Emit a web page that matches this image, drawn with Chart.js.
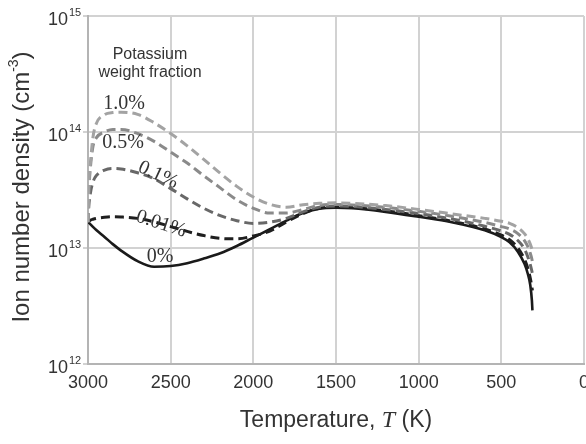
<!DOCTYPE html>
<html>
<head>
<meta charset="utf-8">
<script src="https://cdn.jsdelivr.net/npm/chart.js@4/dist/chart.umd.min.js"></script>
<style>
  html, body { margin: 0; padding: 0; background: #fff; }
  #wrap { width: 586px; height: 444px; position: relative; }
</style>
</head>
<body>
<div id="wrap"><canvas id="chart"></canvas></div>
<script>
// Temperature grid (K)
const temps = [3000, 2995, 2985, 2970, 2950, 2900, 2850, 2800, 2700, 2600, 2500, 2400, 2300, 2200, 2100,
               2000, 1900, 1800, 1700, 1600, 1500, 1400, 1200, 1000, 800, 600, 500, 450, 400, 360, 340, 325, 315, 312];

// Ion number density (cm^-3) per potassium weight fraction
const k0 = [1.67e13, 1.65e13, 1.60e13, 1.52e13, 1.43e13, 1.245e13, 1.08e13, 9.5e12, 7.7e12, 6.9e12, 7.0e12, 7.4e12, 8.1e12, 9.0e12, 1.04e13,
            1.23e13, 1.45e13, 1.72e13, 2.0e13, 2.18e13, 2.22e13, 2.2e13, 2.05e13, 1.86e13, 1.67e13, 1.42e13, 1.24e13, 1.12e13, 9.3e12, 7.3e12, 6.0e12, 4.8e12, 3.5e12, 2.9e12];
const k001 = [1.67e13, 1.70e13, 1.74e13, 1.77e13, 1.80e13, 1.84e13, 1.86e13, 1.85e13, 1.80e13, 1.68e13, 1.53e13, 1.39e13, 1.28e13, 1.21e13, 1.20e13,
              1.27e13, 1.40e13, 1.68e13, 1.98e13, 2.20e13, 2.25e13, 2.23e13, 2.09e13, 1.90e13, 1.70e13, 1.46e13, 1.29e13, 1.18e13, 1.0e13, 8.0e12, 6.7e12, 5.5e12, 4.6e12, 4.3e12];
const k01 = [1.67e13, 2.3e13, 3.0e13, 3.7e13, 4.2e13, 4.7e13, 4.85e13, 4.8e13, 4.45e13, 3.95e13, 3.25e13, 2.65e13, 2.2e13, 1.9e13, 1.72e13,
             1.63e13, 1.67e13, 1.80e13, 2.05e13, 2.25e13, 2.30e13, 2.28e13, 2.15e13, 1.98e13, 1.78e13, 1.54e13, 1.40e13, 1.31e13, 1.16e13, 9.8e12, 8.4e12, 7.2e12, 6.3e12, 6.0e12];
const k05 = [1.67e13, 3.0e13, 5.0e13, 7.5e13, 8.9e13, 1.0e14, 1.05e14, 1.05e14, 9.7e13, 8.3e13, 6.7e13, 5.4e13, 4.2e13, 3.3e13, 2.6e13,
             2.2e13, 2.0e13, 2.0e13, 2.15e13, 2.33e13, 2.37e13, 2.35e13, 2.24e13, 2.07e13, 1.88e13, 1.66e13, 1.53e13, 1.46e13, 1.33e13, 1.16e13, 1.03e13, 9.0e12, 8.0e12, 7.6e12];
const k10 = [1.67e13, 3.5e13, 5.5e13, 9.0e13, 1.18e14, 1.41e14, 1.47e14, 1.48e14, 1.42e14, 1.2e14, 9.7e13, 7.6e13, 5.8e13, 4.4e13, 3.4e13,
             2.75e13, 2.38e13, 2.25e13, 2.36e13, 2.43e13, 2.45e13, 2.43e13, 2.32e13, 2.15e13, 1.97e13, 1.80e13, 1.70e13, 1.63e13, 1.50e13, 1.33e13, 1.20e13, 1.08e13, 9.8e12, 9.4e12];

const xTicks = [3000, 2500, 2000, 1500, 1000, 500, 0];
const yTicks = [1e12, 1e13, 1e14, 1e15];

// curve labels, anchored at [T, n]
const curveLabels = [
  { text: '1.0%', at: [2782, 1.74e14], rot: 0 },
  { text: '0.5%', at: [2788, 8.0e13], rot: 0 },
  { text: '0.1%', at: [2576, 4.26e13], rot: 25 },
  { text: '0.01%', at: [2558, 1.61e13], rot: 18 },
  { text: '0%', at: [2564, 8.4e12], rot: 0 }
];

const pts = arr => temps.map((t, i) => ({ x: t, y: arr[i] }));
const sans = '"Liberation Sans", Arial, Helvetica, sans-serif';
const serif = '"Liberation Serif", "Times New Roman", serif';
const textColor = '#333';

const labelsPlugin = {
  id: 'labels',
  afterDraw(chart) {
    const { ctx, scales: { x, y } } = chart;
    ctx.save();
    ctx.fillStyle = textColor;

    // y tick labels with superscript exponents
    y.ticks.forEach(t => {
      const py = y.getPixelForValue(t.value);
      const e = Math.round(Math.log10(t.value));
      ctx.font = '18px ' + sans;
      ctx.textAlign = 'right';
      ctx.textBaseline = 'middle';
      ctx.fillText('10', 68, py + 4);
      ctx.font = '11px ' + sans;
      ctx.textAlign = 'left';
      ctx.fillText(String(e), 69, py - 3);
    });

    // y title
    ctx.save();
    ctx.translate(22, 187);
    ctx.rotate(-Math.PI / 2);
    ctx.textBaseline = 'middle';
    ctx.textAlign = 'left';
    const main = 'Ion number density (cm';
    ctx.font = '24px ' + sans;
    const w1 = ctx.measureText(main).width;
    ctx.font = '14px ' + sans;
    const w2 = ctx.measureText('-3').width;
    ctx.font = '24px ' + sans;
    const w3 = ctx.measureText(')').width;
    let sx = -(w1 + w2 + w3) / 2;
    ctx.fillText(main, sx, 0);
    sx += w1;
    ctx.font = '14px ' + sans;
    ctx.fillText('-3', sx, -8);
    sx += w2;
    ctx.font = '24px ' + sans;
    ctx.fillText(')', sx, 0);
    ctx.restore();

    // x title with italic T
    const parts = [
      ['Temperature, ', '23px ' + sans],
      ['T', 'italic 24px ' + serif],
      [' (K)', '23px ' + sans]
    ];
    let total = 0;
    parts.forEach(p => { ctx.font = p[1]; total += ctx.measureText(p[0]).width; });
    let tx = x.getPixelForValue(1500) - total / 2;
    ctx.textAlign = 'left';
    ctx.textBaseline = 'middle';
    parts.forEach(p => {
      ctx.font = p[1];
      ctx.fillText(p[0], tx, 421);
      tx += ctx.measureText(p[0]).width;
    });

    // legend heading
    ctx.font = '16px ' + sans;
    ctx.textAlign = 'center';
    ctx.fillText('Potassium', x.getPixelForValue(2625), 55);
    ctx.fillText('weight fraction', x.getPixelForValue(2625), 73);

    // curve labels
    ctx.font = '20px ' + serif;
    curveLabels.forEach(l => {
      ctx.save();
      ctx.translate(x.getPixelForValue(l.at[0]), y.getPixelForValue(l.at[1]));
      ctx.rotate(l.rot * Math.PI / 180);
      ctx.fillText(l.text, 0, 0);
      ctx.restore();
    });
    ctx.restore();
  }
};

const dashed = (label, data, color) => ({
  label, data: pts(data), borderColor: color, borderWidth: 3,
  borderDash: [9, 5], pointRadius: 0, cubicInterpolationMode: 'monotone', fill: false
});

new Chart(document.getElementById('chart'), {
  type: 'line',
  data: {
    datasets: [
      dashed('1.0%', k10, '#a3a3a3'),
      dashed('0.5%', k05, '#8a8a8a'),
      dashed('0.1%', k01, '#686868'),
      dashed('0.01%', k001, '#1f1f1f'),
      { label: '0%', data: pts(k0), borderColor: '#1a1a1a', borderWidth: 2.6,
        pointRadius: 0, cubicInterpolationMode: 'monotone', fill: false }
    ]
  },
  options: {
    responsive: true,
    maintainAspectRatio: false,
    animation: false,
    layout: { padding: { top: 16, right: 2, left: 0, bottom: 0 } },
    plugins: { legend: { display: false }, tooltip: { enabled: false } },
    scales: {
      x: {
        type: 'linear',
        reverse: true,
        min: 0,
        max: 3000,
        afterBuildTicks: s => { s.ticks = xTicks.map(v => ({ value: v })); },
        afterFit: s => { s.height = 80; s.paddingLeft = 0; s.paddingRight = 0; },
        grid: { color: '#d2d2d2', lineWidth: 2, drawTicks: false },
        border: { color: '#b4b4b4', width: 2 },
        ticks: { color: textColor, font: { family: sans, size: 18 }, padding: 8, maxRotation: 0, autoSkip: false,
                 callback: v => String(v) }
      },
      y: {
        type: 'logarithmic',
        min: 1e12,
        max: 1e15,
        afterBuildTicks: s => { s.ticks = yTicks.map(v => ({ value: v })); },
        afterFit: s => { s.width = 88; s.paddingTop = 0; s.paddingBottom = 0; },
        grid: { color: '#d2d2d2', lineWidth: 2, tickLength: 5 },
        border: { color: '#b4b4b4', width: 2 },
        ticks: { display: false }
      }
    }
  },
  plugins: [labelsPlugin]
});
</script>
</body>
</html>
